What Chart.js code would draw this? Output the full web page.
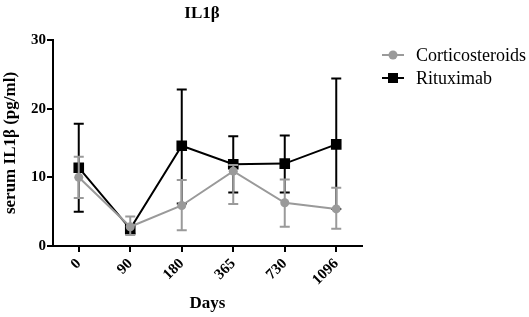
<!DOCTYPE html>
<html>
<head>
<meta charset="utf-8">
<script src="https://cdn.jsdelivr.net/npm/chart.js@4/dist/chart.umd.min.js"></script>
<style>
  html, body { margin: 0; padding: 0; background: #fff; }
  #wrap { width: 529px; height: 317px; position: relative; }
</style>
</head>
<body>
<div id="wrap"><canvas id="chart"></canvas></div>
<script>
// Days after treatment
const days = ['0', '90', '180', '365', '730', '1096'];

// Corticosteroids mean and error range
const corticoMean = [10.0, 2.8, 5.9, 10.9, 6.3, 5.4];
const corticoLow  = [7.0, 1.6, 2.3, 6.1, 2.8, 2.5];
const corticoHigh = [13.0, 4.3, 9.6, 11.8, 9.7, 8.5];

// Rituximab mean and error range
const rituxMean = [11.4, 2.5, 14.6, 11.9, 12.0, 14.8];
const rituxLow  = [5.0, 1.8, 6.2, 7.8, 7.8, 5.4];
const rituxHigh = [17.8, 3.1, 22.8, 16.0, 16.1, 24.4];

const yTicks = [0, 10, 20, 30];

const GREY = '#9a9a9a';
const SERIF = '"Liberation Serif", "Times New Roman", serif';

// error bars drawn through the chart's own scales
const errorBars = {
    id: 'errorBars',
    beforeDatasetDraw(chart, args) {
        const ds = chart.data.datasets[args.index];
        if (!ds.errLow) return;
        const x = chart.scales.x, y = chart.scales.y;
        const ctx = chart.ctx;
        ctx.save();
        ctx.strokeStyle = ds.borderColor;
        ctx.lineWidth = 2;
        ds.data.forEach((v, i) => {
            const px = x.getPixelForValue(i);
            const top = y.getPixelForValue(ds.errHigh[i]);
            const bot = y.getPixelForValue(ds.errLow[i]);
            ctx.beginPath();
            ctx.moveTo(px, top); ctx.lineTo(px, bot);
            ctx.moveTo(px - 5, top); ctx.lineTo(px + 5, top);
            ctx.moveTo(px - 5, bot); ctx.lineTo(px + 5, bot);
            ctx.stroke();
        });
        ctx.restore();
    }
};

// title over the plot and legend on the right
const decorations = {
    id: 'decorations',
    afterDraw(chart) {
        const ctx = chart.ctx;
        ctx.save();
        ctx.fillStyle = '#000';
        ctx.font = 'bold 17px ' + SERIF;
        ctx.textAlign = 'center';
        ctx.textBaseline = 'middle';
        ctx.fillText('IL1β', 202, 14);

        chart.data.datasets.forEach((ds, i) => {
            const yy = 55 + i * 23;
            ctx.strokeStyle = ds.borderColor;
            ctx.lineWidth = 2;
            ctx.beginPath();
            ctx.moveTo(382, yy); ctx.lineTo(404, yy);
            ctx.stroke();
            ctx.fillStyle = ds.backgroundColor;
            if (ds.pointStyle === 'rect') {
                ctx.fillRect(388, yy - 5, 10, 10);
            } else {
                ctx.beginPath();
                ctx.arc(393, yy, 4.5, 0, Math.PI * 2);
                ctx.fill();
            }
            ctx.fillStyle = '#000';
            ctx.font = '18px ' + SERIF;
            ctx.textAlign = 'left';
            ctx.fillText(ds.label, 416, yy + 1);
        });
        ctx.restore();
    }
};

new Chart(document.getElementById('chart'), {
    type: 'line',
    data: {
        labels: days,
        datasets: [
            {
                label: 'Corticosteroids',
                data: corticoMean,
                errLow: corticoLow,
                errHigh: corticoHigh,
                borderColor: GREY,
                backgroundColor: GREY,
                borderWidth: 2,
                pointStyle: 'circle',
                pointRadius: 4.5,
                pointBorderWidth: 0,
                tension: 0
            },
            {
                label: 'Rituximab',
                data: rituxMean,
                errLow: rituxLow,
                errHigh: rituxHigh,
                borderColor: '#000',
                backgroundColor: '#000',
                borderWidth: 2,
                pointStyle: 'rect',
                pointRadius: 7.5,
                pointBorderWidth: 0,
                tension: 0
            }
        ]
    },
    options: {
        responsive: true,
        maintainAspectRatio: false,
        animation: false,
        layout: { padding: { left: 0, right: 167, top: 40, bottom: 0 } },
        plugins: {
            legend: { display: false },
            tooltip: { enabled: false }
        },
        scales: {
            x: {
                type: 'category',
                offset: true,
                border: { color: '#000', width: 2 },
                grid: { display: true, drawOnChartArea: false, drawTicks: true, tickLength: 6, color: '#000', lineWidth: 2, offset: false },
                ticks: {
                    color: '#000',
                    font: { family: SERIF, size: 15, weight: 'bold' },
                    minRotation: 45,
                    maxRotation: 45,
                    padding: 3
                },
                title: {
                    display: true,
                    text: 'Days',
                    color: '#000',
                    font: { family: SERIF, size: 17, weight: 'bold' },
                    padding: { top: 0, bottom: 3 }
                },
                afterFit(scale) { scale.height = 71; }
            },
            y: {
                min: 0,
                max: 30,
                afterBuildTicks(scale) { scale.ticks = yTicks.map(v => ({ value: v })); },
                border: { color: '#000', width: 2 },
                grid: { display: true, drawOnChartArea: false, drawTicks: true, tickLength: 6, color: '#000', lineWidth: 2 },
                ticks: {
                    color: '#000',
                    font: { family: SERIF, size: 15, weight: 'bold' },
                    padding: 1
                },
                title: {
                    display: true,
                    text: 'serum IL1β (pg/ml)',
                    color: '#000',
                    font: { family: SERIF, size: 17, weight: 'bold' },
                    padding: { top: 0, bottom: 0 }
                },
                afterFit(scale) { scale.width = 53; }
            }
        }
    },
    plugins: [errorBars, decorations]
});
</script>
</body>
</html>
